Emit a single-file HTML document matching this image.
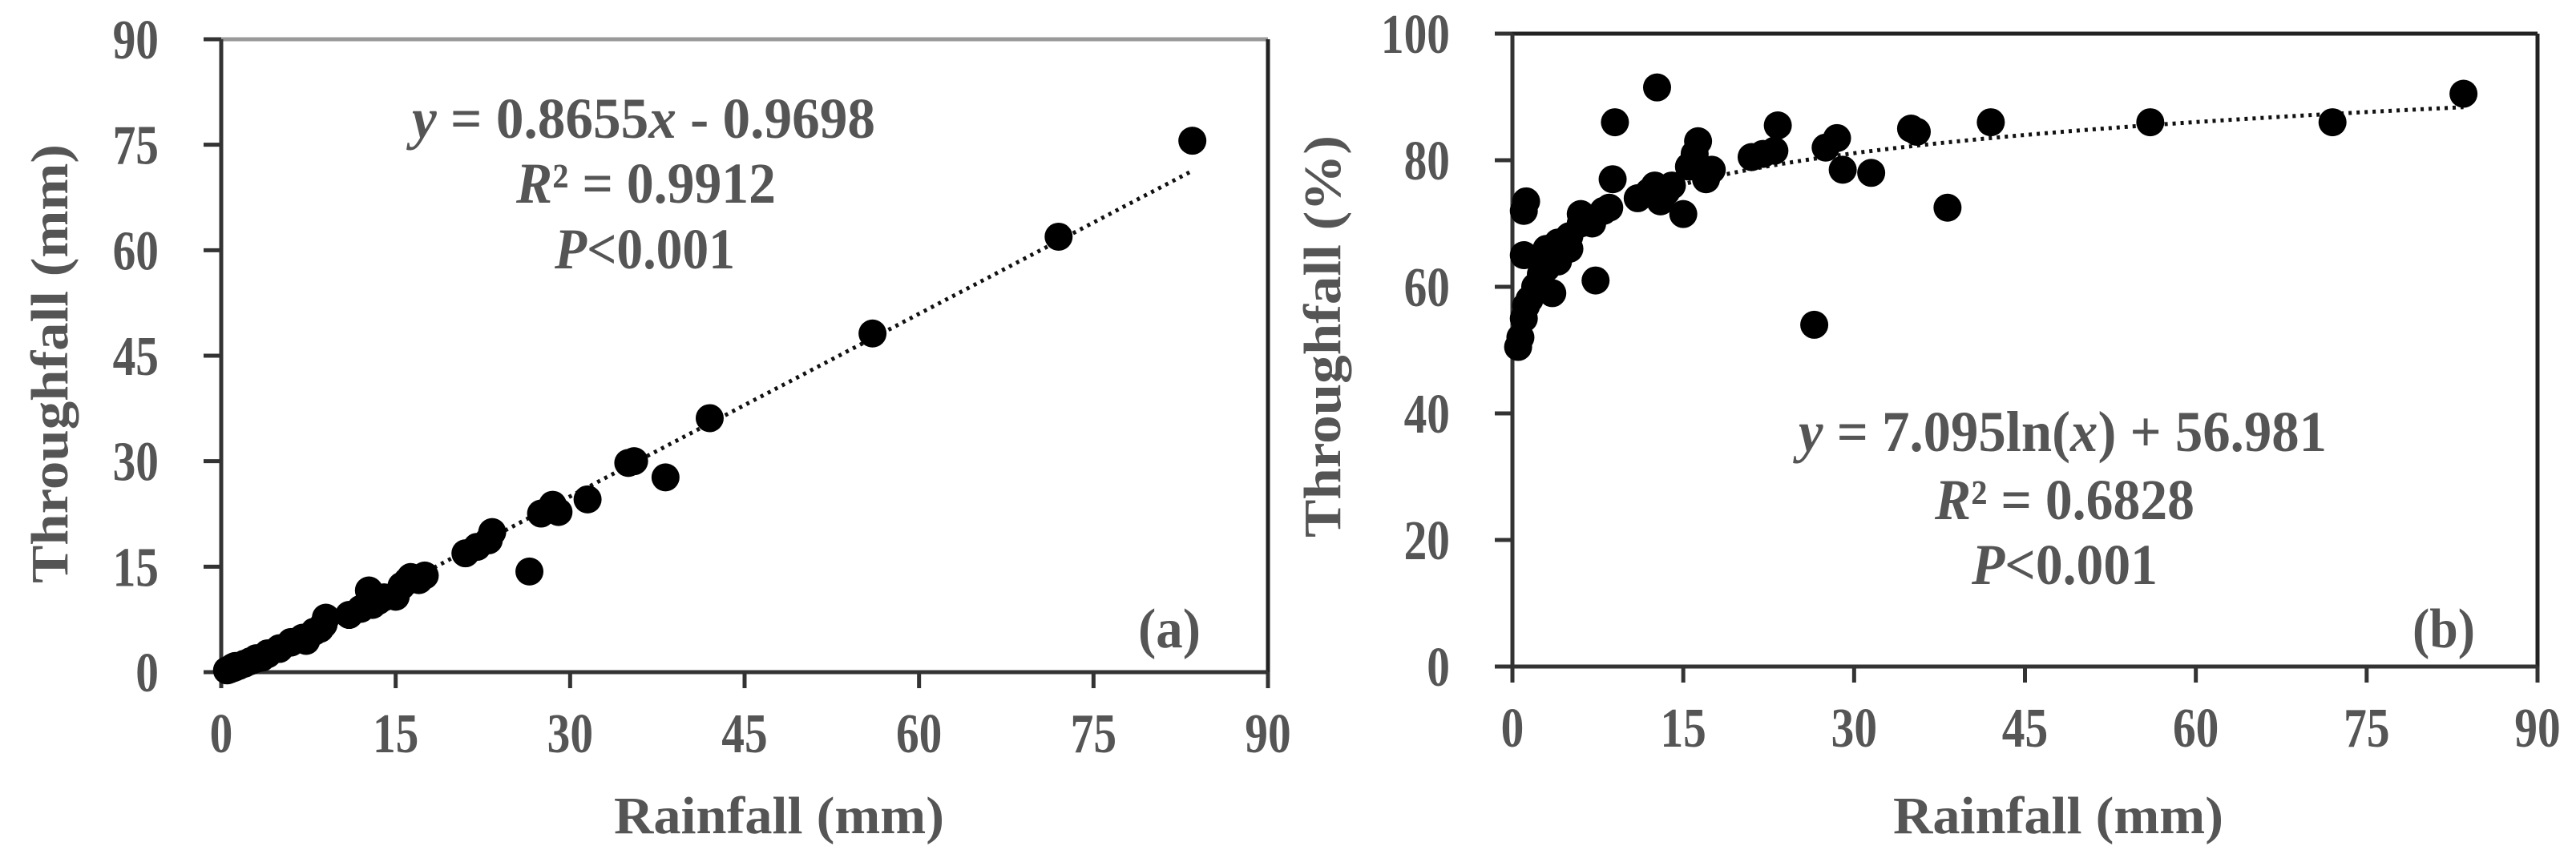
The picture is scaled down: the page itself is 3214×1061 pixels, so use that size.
<!DOCTYPE html>
<html><head><meta charset="utf-8"><style>
html,body{margin:0;padding:0;background:#fff;}
svg{display:block;font-family:"Liberation Serif",serif;}
</style></head><body>
<svg id="fig" width="3214" height="1061" viewBox="0 0 3214 1061" xmlns="http://www.w3.org/2000/svg"></svg>
<script>
const rainfall = [0.5,0.7,1,1.2,1,1,1.2,1.5,2,2.5,3,3,3.5,4,4,5,5,6,6,7,7.3,8,8.5,8.8,9,11,12,12.5,12.7,13,13.5,14,15,15.5,16,16.3,17,17.5,21,22,23,23.3,26.5,27.5,28.5,29,31.5,35,35.5,38.2,42,56,72,83.5];
const throughfall = [0.25,0.36,0.55,0.68,0.65,0.72,0.88,0.87,1.2,1.55,1.89,1.98,2.07,2.56,2.68,3.3,3.4,4.2,4.29,4.9,4.45,5.76,6.16,6.78,7.74,8.14,9.0,9.5,11.62,9.56,10.13,10.64,10.73,12.25,12.96,13.53,13.09,13.74,16.9,17.82,18.75,19.92,14.31,22.55,23.8,22.77,24.57,29.75,30.0,27.7,36.12,48.16,61.92,75.57];
const tfPercent = [50.5,52,55,57,65,72,73.5,58,60,62,63,66,59,64,67,66,68,70,71.5,70,61,72,72.5,77,86,74,75,76,91.5,73.5,75,76,71.5,79,81,83,77,78.5,80.5,81,81.5,85.5,54,82,83.5,78.5,78,85,84.5,72.5,86,86,86,90.5];
const xTicks = [0,15,30,45,60,75,90];
const yTicksA = [0,15,30,45,60,75,90];
const yTicksB = [0,20,40,60,80,100];
const fitA = [0.8655,-0.9698];
const fitB = [7.095,56.981];

const NS="http://www.w3.org/2000/svg";
const svg=document.getElementById('fig');
function mk(tag,attrs,parent){const e=document.createElementNS(NS,tag);for(const k in attrs)e.setAttribute(k,attrs[k]);(parent||svg).appendChild(e);return e;}
function txt(s,attrs,parent){const e=mk('text',attrs,parent);e.textContent=s;return e;}

function panel(cfg){
  const g=mk('g',{});
  
  
  const sx=v=>cfg.x0+(v-0)/90*(cfg.x1-cfg.x0);
  const sy=v=>cfg.y1-(v/cfg.ymax)*(cfg.y1-cfg.y0);
  const top=mk('line',{x1:cfg.x0,y1:cfg.y0,x2:cfg.x1,y2:cfg.y0,stroke:cfg.topCol,'stroke-width':5},g);
  
  const right=mk('line',{x1:cfg.x1,y1:cfg.y0,x2:cfg.x1,y2:cfg.y1,stroke:'#222','stroke-width':5},g);
  
  const yax=mk('line',{x1:cfg.x0,y1:cfg.y0,x2:cfg.x0,y2:cfg.y1+20,stroke:'#333','stroke-width':5},g);
  
  const xax=mk('line',{x1:cfg.x0-22,y1:cfg.y1,x2:cfg.x1,y2:cfg.y1,stroke:'#333','stroke-width':5},g);
  
  xTicks.forEach(t=>{
    const l=mk('line',{x1:sx(t),y1:cfg.y1,x2:sx(t),y2:cfg.y1+20,stroke:'#333','stroke-width':5},g);
    
    const tl=txt(String(t),{x:sx(t),y:cfg.y1+100,'text-anchor':'middle','font-size':70,'font-weight':'bold',fill:'#555',transform:`translate(${sx(t)},0) scale(0.82,1) translate(${-sx(t)},0)`},g);
    
  });
  cfg.yTicks.forEach(t=>{
    const l=mk('line',{x1:cfg.x0-22,y1:sy(t),x2:cfg.x0,y2:sy(t),stroke:'#333','stroke-width':5},g);
    
    const rx=cfg.x0-78;
    const tl=txt(String(t),{x:rx,y:sy(t)+24,'text-anchor':'end','font-size':70,'font-weight':'bold',fill:'#555',transform:`translate(${rx},0) scale(0.82,1) translate(${-rx},0)`},g);
    
  });
  let d='';
  for(let i=0;i<=200;i++){const xv=cfg.fx0+(cfg.fx1-cfg.fx0)*i/200;const yv=cfg.fit(xv);d+=(i?'L':'M')+sx(xv).toFixed(1)+','+sy(yv).toFixed(1);}
  const tr=mk('path',{d:d,fill:'none',stroke:'#111','stroke-width':5,'stroke-dasharray':'4 6'},g);
  
  rainfall.forEach((r,i)=>{
    const c=mk('circle',{cx:sx(r),cy:sy(cfg.ys[i]),r:17.5,fill:'#000'},g);
    
    
  });
  const xt=txt('Rainfall (mm)',{x:cfg.xtX-206,y:1040,'font-size':66,'font-weight':'bold',fill:'#555',textLength:412,lengthAdjust:'spacingAndGlyphs'},g);
  
  const yt=txt(cfg.ytitle,{x:0,y:0,'font-size':66,'font-weight':'bold',fill:'#555',textLength:cfg.ytLen,lengthAdjust:'spacingAndGlyphs','text-anchor':'start',transform:`translate(${cfg.ytX+22},${cfg.ytY+cfg.ytLen}) rotate(-90)`},g);
  
  cfg.eq.forEach((e,i)=>{
    const t=mk('text',{x:e.x,y:e.y,'font-size':72,'font-weight':cfg.eqWeight,fill:'#555',textLength:e.w,lengthAdjust:'spacingAndGlyphs'},g);
    t.innerHTML=e.h;
    
  });
  const pl=txt(cfg.plabel,{x:cfg.plX,y:808,'font-size':70,'font-weight':cfg.eqWeight,fill:'#555',textLength:78,lengthAdjust:'spacingAndGlyphs'},g);
  
}

panel({name:'panel-a',x0:276,x1:1582,y0:49,y1:839,ymax:90,yTicks:yTicksA,ys:throughfall,topCol:'#999',eqWeight:'bold',
  fit:x=>fitA[0]*x+fitA[1],fx0:1.2,fx1:83.5,xtX:972,ytitle:'Throughfall (mm)',ytX:62,ytY:180,ytLen:548,
  eq:[{x:514,y:172,w:578,h:'<tspan font-style="italic">y</tspan> = 0.8655<tspan font-style="italic">x</tspan> - 0.9698'},
      {x:644,y:253,w:324,h:'<tspan font-style="italic">R</tspan>² = 0.9912'},
      {x:692,y:335,w:225,h:'<tspan font-style="italic">P</tspan>&lt;0.001'}],
  plabel:'(a)',plX:1420});
panel({name:'panel-b',x0:1887,x1:3166,y0:42,y1:832,ymax:100,yTicks:yTicksB,ys:tfPercent,topCol:'#222',eqWeight:'bold',
  fit:x=>fitB[0]*Math.log(x)+fitB[1],fx0:0.5,fx1:83.5,xtX:2568,ytitle:'Throughfall (%)',ytX:1650,ytY:169,ytLen:502,
  eq:[{x:2244,y:563,w:659,h:'<tspan font-style="italic">y</tspan> = 7.095ln(<tspan font-style="italic">x</tspan>) + 56.981'},
      {x:2414,y:648,w:324,h:'<tspan font-style="italic">R</tspan>² = 0.6828'},
      {x:2460,y:729,w:232,h:'<tspan font-style="italic">P</tspan>&lt;0.001'}],
  plabel:'(b)',plX:3010});
</script>
</body></html>
